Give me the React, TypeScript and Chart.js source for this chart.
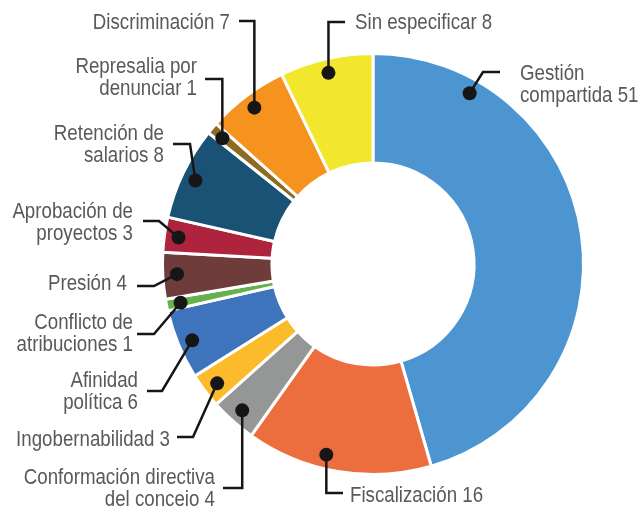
import React, { useEffect, useRef } from "react";
import { Chart, registerables } from "chart.js";

Chart.register(...registerables);

const categories = [
  "Gestión compartida",
  "Fiscalización",
  "Conformación directiva del conceio",
  "Ingobernabilidad",
  "Afinidad política",
  "Conflicto de atribuciones",
  "Presión",
  "Aprobación de proyectos",
  "Retención de salarios",
  "Represalia por denunciar",
  "Discriminación",
  "Sin especificar",
];
const values = [51, 16, 4, 3, 6, 1, 4, 3, 8, 1, 7, 8];
const colors = [
  "#4c95d0",
  "#ec6e3f",
  "#959796",
  "#fbbb2b",
  "#3e74bb",
  "#66b14e",
  "#6e3c3b",
  "#ae243c",
  "#1a5276",
  "#8d6c21",
  "#f6921e",
  "#f3e72e",
];
const labelLines = [
  ["Gestión", "compartida"],
  ["Fiscalización"],
  ["Conformación directiva", "del conceio"],
  ["Ingobernabilidad"],
  ["Afinidad", "política"],
  ["Conflicto de", "atribuciones"],
  ["Presión"],
  ["Aprobación de", "proyectos"],
  ["Retención de", "salarios"],
  ["Represalia por", "denunciar"],
  ["Discriminación"],
  ["Sin especificar"],
];

type Place = {
  tx: number;
  ty: number;
  align: CanvasTextAlign;
  p0: [number, number];
  p1: [number | null, number];
  t: number;
};

const placements: Place[] = [
  { tx: 520, ty: 80, align: "left", p0: [500, 72], p1: [483, 72], t: 0.18 },
  { tx: 350, ty: 502, align: "left", p0: [343, 493], p1: [null, 493], t: 0.58 },
  { tx: 215, ty: 484, align: "right", p0: [223, 488], p1: [null, 488], t: 0.5 },
  { tx: 170, ty: 446, align: "right", p0: [177, 437], p1: [193, 437], t: 0.45 },
  { tx: 138, ty: 387, align: "right", p0: [147, 391], p1: [162, 391], t: 0.48 },
  { tx: 133, ty: 329, align: "right", p0: [137, 334], p1: [154, 334], t: 0.46 },
  { tx: 127, ty: 290, align: "right", p0: [137, 286], p1: [154, 286], t: 0.52 },
  { tx: 133, ty: 218, align: "right", p0: [143, 221], p1: [159, 221], t: 0.47 },
  { tx: 164, ty: 140, align: "right", p0: [173, 144], p1: [190, 144], t: 0.48 },
  { tx: 197, ty: 73, align: "right", p0: [205, 79], p1: [null, 79], t: 0.4 },
  { tx: 230, ty: 29, align: "right", p0: [239, 21], p1: [null, 21], t: 0.49 },
  { tx: 355, ty: 29, align: "left", p0: [345, 22], p1: [null, 22], t: 0.49 },
];

const LINE_H = 22;
const FONT = '22px "Liberation Sans", Arial, sans-serif';
const SCALE_X = 0.85;

const calloutPlugin = {
  id: "callouts",
  afterDraw(chart: any) {
    const ctx: CanvasRenderingContext2D = chart.ctx;
    const meta = chart.getDatasetMeta(0);
    ctx.save();
    meta.data.forEach((el: any, i: number) => {
      const p = placements[i];
      if (!p) return;
      const { x, y, startAngle, endAngle, innerRadius, outerRadius } = el.getProps(
        ["x", "y", "startAngle", "endAngle", "innerRadius", "outerRadius"],
        true
      );
      const a = startAngle + p.t * (endAngle - startAngle);
      const r = innerRadius + 0.87 * (outerRadius - innerRadius);
      const dx = x + r * Math.cos(a);
      const dy = y + r * Math.sin(a);
      const ex = p.p1[0] === null ? dx : p.p1[0];
      ctx.strokeStyle = "#161616";
      ctx.lineWidth = 2.5;
      ctx.lineJoin = "miter";
      ctx.beginPath();
      ctx.moveTo(p.p0[0], p.p0[1]);
      ctx.lineTo(ex, p.p1[1]);
      ctx.lineTo(dx, dy);
      ctx.stroke();
      ctx.fillStyle = "#161616";
      ctx.beginPath();
      ctx.arc(dx, dy, 7, 0, Math.PI * 2);
      ctx.fill();

      ctx.font = FONT;
      ctx.fillStyle = "#58595b";
      ctx.textAlign = p.align;
      ctx.textBaseline = "alphabetic";
      const lines = labelLines[i].slice();
      lines[lines.length - 1] = lines[lines.length - 1] + " " + values[i];
      lines.forEach((ln, k) => {
        ctx.save();
        ctx.translate(p.tx, p.ty + k * LINE_H);
        ctx.scale(SCALE_X, 1);
        ctx.fillText(ln, 0, 0);
        ctx.restore();
      });
    });
    ctx.restore();
  },
};

export default function App() {
  const ref = useRef<HTMLCanvasElement | null>(null);
  useEffect(() => {
    if (!ref.current) return;
    const chart = new Chart(ref.current, {
      type: "doughnut",
      data: {
        labels: categories,
        datasets: [
          {
            data: values,
            backgroundColor: colors,
            borderColor: "#ffffff",
            borderWidth: 3,
          },
        ],
      },
      options: {
        responsive: false,
        animation: false,
        cutout: "48%",
        layout: { padding: { left: 161, right: 56, top: 52, bottom: 30 } },
        plugins: {
          legend: { display: false },
          tooltip: { enabled: false },
        },
      },
      plugins: [calloutPlugin],
    });
    return () => chart.destroy();
  }, []);
  return (
    <div style={{ position: "absolute", left: 0, top: 0, width: 641, height: 506, background: "#fff" }}>
      <canvas ref={ref} width={641} height={506} style={{ width: 641, height: 506, display: "block" }} />
    </div>
  );
}
